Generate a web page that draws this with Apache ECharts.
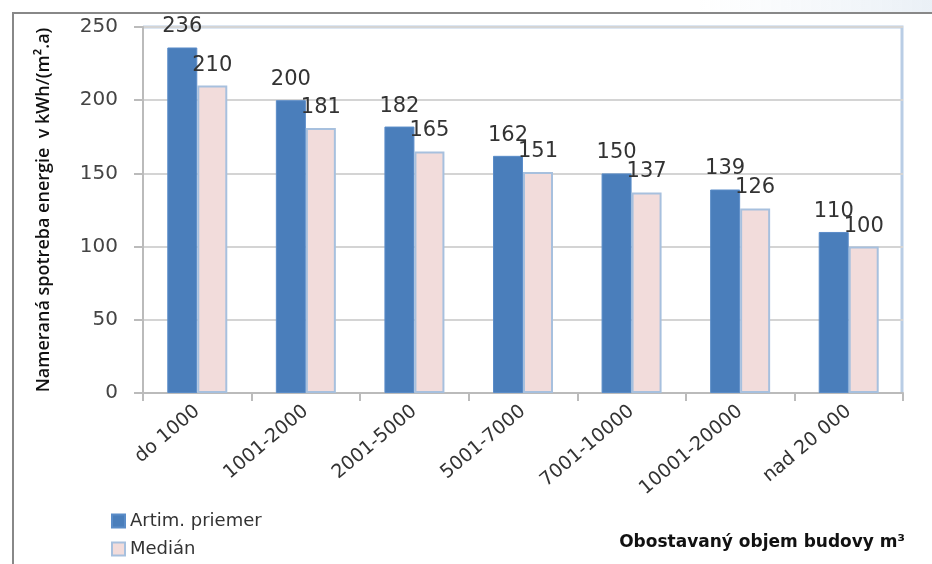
<!DOCTYPE html>
<html>
<head>
<meta charset="utf-8">
<script src="https://cdn.jsdelivr.net/npm/echarts@6/dist/echarts.min.js"></script>
<style>
  html, body { margin: 0; padding: 0; background: #fff; }
  #graf { width: 932px; height: 564px; }
</style>
</head>
<body>
<div id="graf"></div>
<script>
   var kategorie = ['do 1000', '1001-2000', '2001-5000', '5001-7000', '7001-10000', '10001-20000', 'nad 20 000'];
   var priemer = [236, 200, 182, 162, 150, 139, 110];
   var median = [210, 181, 165, 151, 137, 126, 100];
   var osY = [0, 50, 100, 150, 200, 250];

   var graf = echarts.init(document.getElementById('graf'));
   var labelStyle = {
       show: true,
       position: 'top',
       distance: 10,
       fontFamily: 'DejaVu Sans',
       fontSize: 21,
       color: '#333'
   };
   var option = {
       animation: false,
       grid: {
           left: 143,
           right: 29,
           top: 27,
           bottom: 171,
           show: true,
           borderWidth: 0,
           backgroundColor: '#fff'
       },
       graphic: [{
           type: 'rect',
           z: -10,
           shape: { x: 700, y: 0, width: 232, height: 12 },
           style: {
               fill: new echarts.graphic.LinearGradient(0, 0, 1, 0, [
                   { offset: 0, color: 'rgba(238,243,248,0)' },
                   { offset: 1, color: '#eaf0f6' }
               ])
           }
       }, {
           type: 'polyline',
           shape: { points: [[13, 564], [13, 13], [932, 13]] },
           style: { stroke: '#888', lineWidth: 2, fill: null }
       }, {
           // horny a pravy okraj plochy grafu
           type: 'polyline',
           shape: { points: [[143, 27], [902, 27], [902, 393]] },
           style: { stroke: '#b9cde5', lineWidth: 3, fill: null }
       }, {
           type: 'text',
           right: 27,
           top: 534,
           style: {
               text: 'Obostavaný objem budovy m³',
               fontFamily: 'DejaVu Sans',
               fontWeight: 'bold',
               fontSize: 17,
               fill: '#111'
           }
       }],
       legend: {
           orient: 'vertical',
           left: 106,
           top: 507,
           itemGap: 10,
           itemWidth: 13,
           itemHeight: 13,
           icon: 'rect',
           textStyle: {
               fontFamily: 'DejaVu Sans',
               fontSize: 18,
               color: '#333'
           },
           data: ['Artim. priemer', 'Medián']
       },
       xAxis: {
           type: 'category',
           data: kategorie,
           axisLine: { lineStyle: { color: '#bbb', width: 2 } },
           axisTick: { show: true, length: 8, lineStyle: { color: '#bbb', width: 2 } },
           axisLabel: {
               rotate: 40,
               interval: 0,
               margin: 16,
               fontFamily: 'DejaVu Sans',
               fontSize: 19,
               color: '#333'
           }
       },
       yAxis: {
           type: 'value',
           min: 0,
           max: 250,
           interval: 50,
           name: 'Nameraná spotreba energie  v kWh/(m².a)',
           nameLocation: 'middle',
           nameGap: 90,
           nameTextStyle: {
               fontFamily: 'Open Sans',
               fontWeight: 600,
               fontSize: 18,
               color: '#111'
           },
           axisLine: { show: true, lineStyle: { color: '#bbb', width: 2 } },
           axisTick: { show: true, length: 9, lineStyle: { color: '#bbb', width: 2 } },
           splitLine: { show: true, lineStyle: { color: '#d4d4d4', width: 2 } },
           axisLabel: {
               margin: 25,
               fontFamily: 'DejaVu Sans',
               fontSize: 20,
               color: '#444',
               formatter: function (v) { return osY.indexOf(v) >= 0 ? String(v) : ''; }
           }
       },
       series: [{
           name: 'Artim. priemer',
           type: 'bar',
           data: priemer,
           barWidth: 30,
           barGap: '0%',
           itemStyle: { color: '#4a7ebb', borderColor: '#5a8cc8', borderWidth: 1 },
           label: labelStyle
       }, {
           name: 'Medián',
           type: 'bar',
           data: median,
           barWidth: 30,
           itemStyle: { color: '#f2dcdb', borderColor: '#a7c0de', borderWidth: 2 },
           label: labelStyle
       }]
   };
   graf.setOption(option);
</script>
</body>
</html>
